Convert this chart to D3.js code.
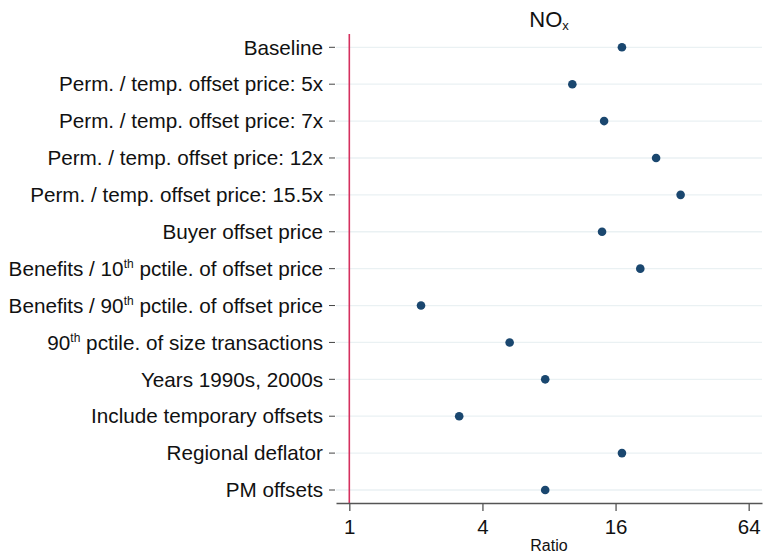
<!DOCTYPE html>
<html>
<head>
<meta charset="utf-8">
<script src="https://cdn.jsdelivr.net/npm/d3@7"></script>
<style>
  body { margin: 0; background: #fff; }
  text { font-family: "Liberation Sans", Arial, sans-serif; fill: #111; }
</style>
</head>
<body>
<svg id="chart" width="763" height="553"></svg>
<script>
// categories: [main text, superscript, rest]
const categories = [
  ["Baseline", "", ""],
  ["Perm. / temp. offset price: 5x", "", ""],
  ["Perm. / temp. offset price: 7x", "", ""],
  ["Perm. / temp. offset price: 12x", "", ""],
  ["Perm. / temp. offset price: 15.5x", "", ""],
  ["Buyer offset price", "", ""],
  ["Benefits / 10", "th", " pctile. of offset price"],
  ["Benefits / 90", "th", " pctile. of offset price"],
  ["90", "th", " pctile. of size transactions"],
  ["Years 1990s, 2000s", "", ""],
  ["Include temporary offsets", "", ""],
  ["Regional deflator", "", ""],
  ["PM offsets", "", ""]
];
const ratios = [17.1, 10.2, 14.2, 24.4, 31.5, 13.9, 20.7, 2.11, 5.31, 7.69, 3.14, 17.1, 7.69];
const xTicks = [1, 4, 16, 64];
const refValue = 1;
const titleMain = "NO";
const titleSub = "x";
const xAxisTitle = "Ratio";

(function () {
const svg = d3.select("#chart");
const pLeft = 336, pRight = 762, pTop = 47.3, pBottom = 490, axisY = 503;

const x = d3.scaleLog().base(2).domain([Math.pow(2, -0.2), Math.pow(2, 6.2)]).range([pLeft, pRight]);
const keys = categories.map((d, i) => i);
const y = d3.scalePoint().domain(keys).range([pTop, pBottom]);

// gridlines
svg.append("g").selectAll("line").data(keys).join("line")
  .attr("x1", pLeft).attr("x2", pRight)
  .attr("y1", d => y(d)).attr("y2", d => y(d))
  .attr("stroke", "#eaf1f3").attr("stroke-width", 1.3);

// reference line
svg.append("line")
  .attr("x1", x(refValue)).attr("x2", x(refValue))
  .attr("y1", 34).attr("y2", axisY)
  .attr("stroke", "#d5305e").attr("stroke-width", 1.6);

// y ticks + labels
const yg = svg.append("g");
yg.selectAll("line").data(keys).join("line")
  .attr("x1", 329).attr("x2", 335)
  .attr("y1", d => y(d)).attr("y2", d => y(d))
  .attr("stroke", "#444").attr("stroke-width", 1);
const lbl = yg.selectAll("text").data(keys).join("text")
  .attr("x", 323).attr("y", d => y(d)).attr("dy", "0.35em")
  .attr("text-anchor", "end").style("font-size", "20.7px");
lbl.each(function(d) {
  const c = categories[d];
  const t = d3.select(this);
  t.append("tspan").text(c[0]);
  if (c[1]) {
    t.append("tspan").text(c[1]).attr("dy", "-8").style("font-size", "12px");
    t.append("tspan").text(c[2]).attr("dy", "8");
  }
});

// x axis
const xAxis = d3.axisBottom(x).tickValues(xTicks).tickFormat(d3.format("d")).tickSize(8).tickSizeOuter(0);
const xg = svg.append("g").attr("transform", `translate(0,${axisY})`).call(xAxis);
xg.select(".domain").attr("stroke", "#555").attr("stroke-width", 1.3);
xg.selectAll(".tick line").attr("stroke", "#555").attr("stroke-width", 1.3);
xg.selectAll(".tick text").style("font-size", "20.5px").attr("fill", "#111")
  .style("font-family", "'Liberation Sans', Arial, sans-serif").attr("y", 16.5);

svg.append("text").attr("x", (pLeft + pRight) / 2).attr("y", 551)
  .attr("text-anchor", "middle").style("font-size", "16px").text(xAxisTitle);

// title
const tt = svg.append("text").attr("x", (pLeft + pRight) / 2).attr("y", 27)
  .attr("text-anchor", "middle").style("font-size", "22px");
tt.append("tspan").text(titleMain);
tt.append("tspan").text(titleSub).attr("dy", "3").style("font-size", "13px");

// points
svg.append("g").selectAll("circle").data(keys).join("circle")
  .attr("cx", d => x(ratios[d])).attr("cy", d => y(d)).attr("r", 4.3)
  .attr("fill", "#1a476f");
})();
</script>
</body>
</html>
